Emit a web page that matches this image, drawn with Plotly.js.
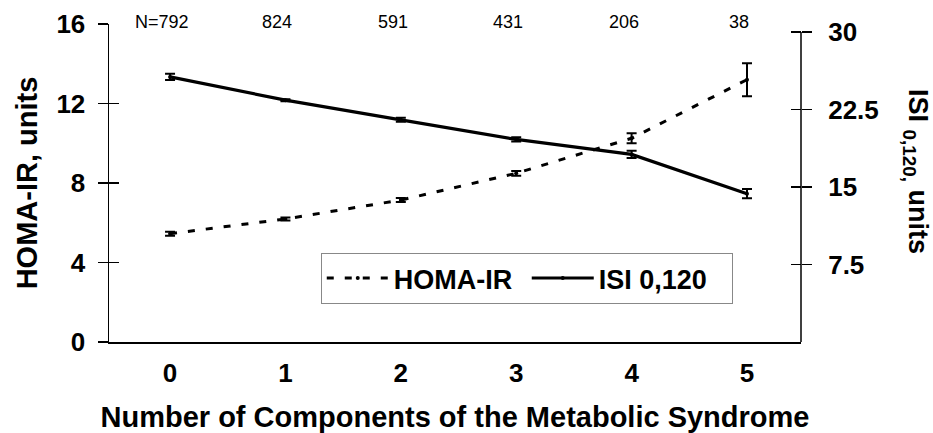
<!DOCTYPE html>
<html>
<head>
<meta charset="utf-8">
<script src="https://cdn.plot.ly/plotly-3.0.1.min.js"></script>
<style>html,body{margin:0;padding:0;background:#fff;}#chart{width:933px;height:433px;}</style>
</head>
<body>
<div id="chart"></div>
<script>
// ---- data ----
const categories = [0, 1, 2, 3, 4, 5];
const sampleSizes = ['N=792', '824', '591', '431', '206', '38'];
const homaIR = [5.45, 6.19, 7.14, 8.49, 10.25, 13.2];
const homaErr = [0.1, 0.08, 0.1, 0.12, 0.25, 0.83];
const isi = [25.65, 23.4, 21.5, 19.6, 18.15, 14.35];
const isiErr = [0.3, 0.1, 0.2, 0.2, 0.35, 0.45];
const leftTicks = [0, 4, 8, 12, 16];
const rightTicks = [7.5, 15, 22.5, 30];

const FONT = 'Liberation Sans, Arial, Helvetica, sans-serif';
const leftRange = [0, 16];
const rightRange = [0, 30.77];

const traces = [
  {
    x: categories, y: homaIR, yaxis: 'y', name: 'HOMA-IR',
    type: 'scatter', mode: 'lines+markers',
    line: {color: '#000', width: 3, dash: '7px,11px'},
    marker: {color: '#000', size: 4},
    error_y: {type: 'data', array: homaErr, visible: true, color: '#000', thickness: 2, width: 5}
  },
  {
    x: categories, y: isi, yaxis: 'y2', name: 'ISI 0,120',
    type: 'scatter', mode: 'lines+markers',
    line: {color: '#000', width: 3.2},
    marker: {color: '#000', size: 4},
    error_y: {type: 'data', array: isiErr, visible: true, color: '#000', thickness: 2, width: 5}
  },
  {x: [], y: [], yaxis: 'y3', showlegend: false, hoverinfo: 'skip', type: 'scatter'},
  {x: [], y: [], yaxis: 'y4', showlegend: false, hoverinfo: 'skip', type: 'scatter'}
];

const annotations = categories.map((c, i) => ({
  x: c, xref: 'x', y: 1, yref: 'paper', yanchor: 'middle', xanchor: 'center',
  yshift: 2, xshift: -8, showarrow: false, text: sampleSizes[i],
  font: {family: FONT, size: 18, color: '#000'}
}));
annotations.push({
  x: 1.166, xref: 'paper', y: 0.535, yref: 'paper', xanchor: 'center', yanchor: 'middle',
  textangle: 90, showarrow: false,
  text: '<b>ISI <sub>0,120,</sub> units</b>',
  font: {family: FONT, size: 27, color: '#000'}
});

const layout = {
  width: 933, height: 433,
  margin: {l: 109, r: 132, t: 24, b: 91, pad: 0},
  paper_bgcolor: '#fff', plot_bgcolor: '#fff',
  showlegend: true,
  legend: {
    orientation: 'h', x: 0.306, y: 0.28, xanchor: 'left', yanchor: 'top',
    bordercolor: '#888', borderwidth: 1, bgcolor: '#fff',
    font: {family: FONT, size: 27, color: '#000', weight: 'bold'},
    itemwidth: 62, entrywidth: 128, tracegroupgap: 0
  },
  xaxis: {
    range: [-0.529, 5.468], tickvals: categories, ticktext: categories.map(String),
    showline: true, linecolor: '#000', linewidth: 1.5, ticks: '',
    showgrid: false, zeroline: false, ticklabelstandoff: 7,
    tickfont: {family: FONT, size: 26, color: '#000', weight: 'bold'},
    title: {text: '<b>Number of Components of the Metabolic Syndrome</b>', standoff: 24,
            font: {family: FONT, size: 29, color: '#000'}}
  },
  yaxis: {
    range: leftRange, tickvals: leftTicks, ticktext: leftTicks.map(String),
    showline: true, linecolor: '#000', linewidth: 1.5,
    ticks: 'outside', ticklen: 10, tickwidth: 1.5, tickcolor: '#000',
    ticklabelstandoff: 7,
    showgrid: false, zeroline: false,
    tickfont: {family: FONT, size: 26, color: '#000', weight: 'bold'},
    title: {text: '<b>HOMA-IR, units</b>', standoff: 10,
            font: {family: FONT, size: 29, color: '#000'}}
  },
  yaxis2: {
    range: rightRange, tickvals: rightTicks, ticktext: rightTicks.map(String),
    overlaying: 'y', side: 'right', anchor: 'x',
    showline: false, ticks: 'outside', ticklen: 10, tickwidth: 1.5, tickcolor: '#000',
    ticklabelstandoff: 11,
    showgrid: false, zeroline: false,
    tickfont: {family: FONT, size: 26, color: '#000', weight: 'bold'}
  },
  yaxis3: {
    range: leftRange, tickvals: leftTicks, overlaying: 'y', side: 'left', anchor: 'x',
    showline: false, ticks: 'inside', ticklen: 10, tickwidth: 1.5, tickcolor: '#000',
    showticklabels: false, showgrid: false, zeroline: false
  },
  yaxis4: {
    range: rightRange, tickvals: rightTicks, overlaying: 'y', side: 'right', anchor: 'x',
    showline: false, ticks: 'inside', ticklen: 10, tickwidth: 1.5, tickcolor: '#000',
    showticklabels: false, showgrid: false, zeroline: false
  },
  shapes: [
    {type: 'line', xref: 'paper', x0: 1, x1: 1, yref: 'y2', y0: rightRange[0], y1: rightTicks[rightTicks.length - 1],
     line: {color: '#000', width: 1.5}}
  ],
  annotations: annotations
};

Plotly.newPlot('chart', traces, layout, {staticPlot: true, displayModeBar: false});
</script>
</body>
</html>
